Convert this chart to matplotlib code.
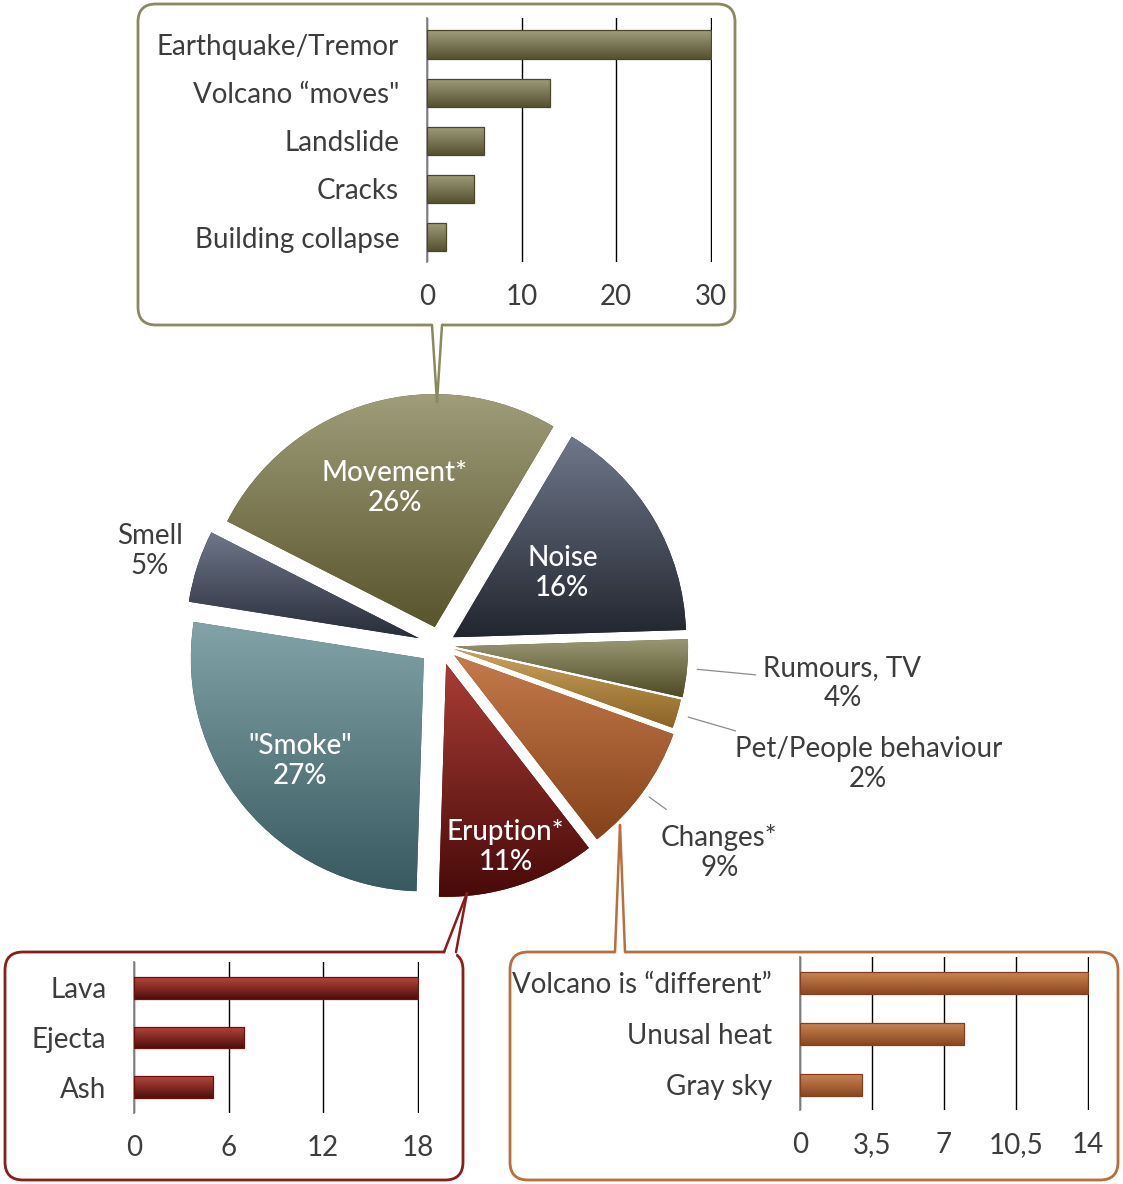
import numpy as np
import matplotlib.pyplot as plt
from matplotlib.colors import LinearSegmentedColormap
from matplotlib.patches import FancyBboxPatch, Polygon

plt.rcParams['font.family'] = ['Lato', 'DejaVu Sans']

W, H = 1123, 1184

# -----------------------------
# Pie data (clockwise from the top-left)
# -----------------------------
slices = ['Movement*', 'Noise', 'Rumours, TV', 'Pet/People behaviour',
          'Changes*', 'Eruption*', '"Smoke"', 'Smell']
shares = [26, 16, 4, 2, 9, 11, 27, 5]
slice_top = ['#9f9d7a', '#6f778a', '#9b9974', '#cba35d', '#c57b4b', '#a83d35', '#82a3a7', '#6f778a']
slice_bottom = ['#58542c', '#22262f', '#4e4a26', '#8b6324', '#85421a', '#480a09', '#395960', '#282d39']

# -----------------------------
# Callout bar data
# -----------------------------
move_labels = ['Earthquake/Tremor', 'Volcano \u201cmoves"', 'Landslide', 'Cracks', 'Building collapse']
move_vals = [30, 13, 6, 5, 2]
move_ticks = [0, 10, 20, 30]
move_ticklabels = ['0', '10', '20', '30']

erupt_labels = ['Lava', 'Ejecta', 'Ash']
erupt_vals = [18, 7, 5]
erupt_ticks = [0, 6, 12, 18]
erupt_ticklabels = ['0', '6', '12', '18']

change_labels = ['Volcano is \u201cdifferent\u201d', 'Unusal heat', 'Gray sky']
change_vals = [14, 8, 3]
change_ticks = [0, 3.5, 7, 10.5, 14]
change_ticklabels = ['0', '3,5', '7', '10,5', '14']

OLIVE, RED, ORANGE = '#8b895f', '#8c1c19', '#b96e3c'
TXT = '#3d3d3d'
FS = 20
grad = np.linspace(0, 1, 256).reshape(-1, 1)

fig = plt.figure(figsize=(W / 100, H / 100), dpi=100)
ax = fig.add_axes([0, 0, 1, 1])

# -----------------------------
# Pie
# -----------------------------
cx, cy, R = 440, H - 645, 233
start = 153
explode = [0.08, 0.065, 0.065, 0.06, 0.075, 0.085, 0.09, 0.095]
wedges, _ = ax.pie(shares, startangle=start, counterclock=False,
                   explode=[e * R for e in explode],
                   radius=R, center=(cx, cy), colors=slice_bottom,
                   wedgeprops=dict(linewidth=0))
for w, top, bot in zip(wedges, slice_top, slice_bottom):
    bb = w.get_path().get_extents(w.get_patch_transform())
    cmap = LinearSegmentedColormap.from_list('g', [top, bot])
    im = ax.imshow(grad, extent=(bb.x0, bb.x1, bb.y0, bb.y1), cmap=cmap,
                   aspect='auto', zorder=2)
    im.set_clip_path(w)

# mid angles of each slice
edges = start - np.cumsum([0] + shares) * 3.6
mids = np.radians((edges[:-1] + edges[1:]) / 2)

inner = {0: 0.70, 1: 0.61, 5: 0.91, 6: 0.78}
for i, f in inner.items():
    ax.text(cx + f * R * np.cos(mids[i]), cy + f * R * np.sin(mids[i]),
            f'{slices[i]}\n{shares[i]}%', color='white', fontsize=FS,
            fontweight='medium', ha='center', va='center', linespacing=1.2,
            zorder=6)

# Smell: no leader line
ax.text(cx + 1.31 * R * np.cos(mids[7]), cy + 1.31 * R * np.sin(mids[7]),
        f'{slices[7]}\n{shares[7]}%', color=TXT, fontsize=FS,
        ha='center', va='center', linespacing=1.2)

# outer labels with leader lines
leaders = {2: (1.36, 87, -8), 3: (1.32, 133, -33), 4: (1.20, 53, -43)}
for i, (f_end, dx, dy) in leaders.items():
    c, s = np.cos(mids[i]), np.sin(mids[i])
    ax.plot([cx + 1.11 * R * c, cx + f_end * R * c],
            [cy + 1.11 * R * s, cy + f_end * R * s], color='#8c8c8c', lw=0.9)
    ax.text(cx + f_end * R * c + dx, cy + f_end * R * s + dy,
            f'{slices[i]}\n{shares[i]}%', color=TXT, fontsize=FS,
            ha='center', va='center', linespacing=1.2)

# -----------------------------
# Callout boxes and pointers
# -----------------------------
def box(x0, y0, x1, y1, color):
    ax.add_patch(FancyBboxPatch((x0, H - y1), x1 - x0, y1 - y0,
                                boxstyle='round,pad=0,rounding_size=18',
                                fc='white', ec=color, lw=2.0, zorder=3))


def pointer(a, b, tip, inward, color):
    pa = (a[0], H - a[1] - inward)
    pb = (b[0], H - b[1] - inward)
    t = (tip[0], H - tip[1])
    ax.add_patch(Polygon([pa, pb, t], closed=True, fc='white', ec='none', zorder=4))
    for p in (a, b):
        ax.plot([p[0], tip[0]], [H - p[1], H - tip[1]], color=color, lw=1.8,
                zorder=5, solid_capstyle='round')


box(138, 4, 735, 325, OLIVE)
box(5, 952, 463, 1180, RED)
box(510, 952, 1118, 1180, ORANGE)
pointer((432, 325), (442, 325), (437, 402), -4, OLIVE)
pointer((444, 952), (456, 952), (467, 893), 4, RED)
pointer((615, 952), (625, 952), (620, 825), 4, ORANGE)

ax.set_xlim(0, W)
ax.set_ylim(0, H)
ax.set_aspect('auto')
ax.axis('off')


# -----------------------------
# Bar charts inside the callouts
# -----------------------------
def callout_bars(px, labels, vals, ticks, ticklabels, ylim, bar_h, top, bot, edge):
    x0, y0, x1, y1 = px
    iax = fig.add_axes([x0 / W, 1 - y1 / H, (x1 - x0) / W, (y1 - y0) / H])
    iax.set_facecolor('none')
    pos = np.arange(len(vals))
    bars = iax.barh(pos, vals, height=bar_h, facecolor='none', edgecolor=edge,
                    linewidth=0.9, zorder=3)
    cmap = LinearSegmentedColormap.from_list('g', [top, bot])
    for b in bars:
        bb = b.get_path().get_extents(b.get_patch_transform())
        im = iax.imshow(grad, extent=(bb.x0, bb.x1, bb.y1, bb.y0), cmap=cmap,
                        aspect='auto', zorder=2)
        im.set_clip_path(b)
    iax.set_xlim(ticks[0], ticks[-1] * 1.004)
    iax.set_ylim(*ylim)
    iax.set_aspect('auto')
    iax.set_yticks(pos)
    iax.set_yticklabels(labels)
    iax.set_xticks(ticks)
    iax.set_xticklabels(ticklabels)
    iax.set_axisbelow(True)
    iax.grid(axis='x', color='black', lw=1.0)
    iax.grid(axis='y', visible=False)
    for side in ['top', 'right', 'bottom']:
        iax.spines[side].set_visible(False)
    iax.spines['left'].set_color('#8a8a8a')
    iax.spines['left'].set_linewidth(1.3)
    iax.tick_params(axis='both', length=0, labelsize=FS, colors=TXT)
    iax.tick_params(axis='x', pad=16)
    iax.tick_params(axis='y', pad=20)
    return iax


callout_bars((427, 18, 712, 262), move_labels, move_vals, move_ticks, move_ticklabels,
             (4.52, -0.56), 0.6, '#a19e7c', '#555130', '#4a4628')
callout_bars((134, 962, 419, 1113), erupt_labels, erupt_vals, erupt_ticks, erupt_ticklabels,
             (2.525, -0.525), 0.43, '#b8463d', '#4e0e0c', '#6a1210')
callout_bars((800, 957, 1089, 1110), change_labels, change_vals, change_ticks, change_ticklabels,
             (2.5, -0.51), 0.43, '#ca8452', '#8a481f', '#8a3d1c')

fig.savefig('out.png', dpi=100)
